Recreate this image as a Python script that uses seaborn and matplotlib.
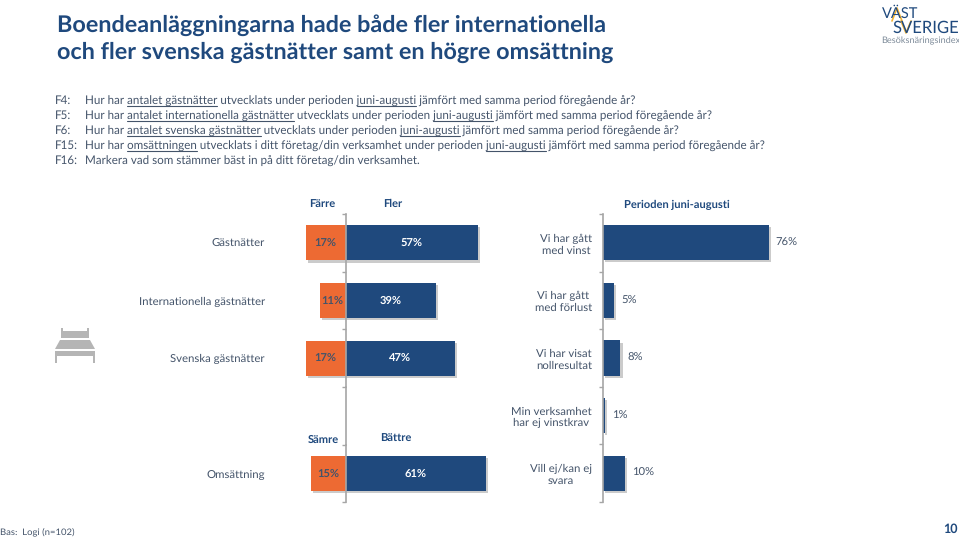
import matplotlib
matplotlib.use("Agg")
import matplotlib.pyplot as plt
from matplotlib.lines import Line2D
from matplotlib.patches import Polygon, Rectangle
import matplotlib.patheffects as pe
import seaborn as sns

# data
kategorier = ["Gästnätter", "Internationella gästnätter", "Svenska gästnätter"]
farre = [17, 11, 17]
fler = [57, 39, 47]

oms_kategori = ["Omsättning"]
samre = [15]
battre = [61]

resultat_kat = ["Vi har gått\nmed vinst", "Vi har gått\nmed förlust", "Vi har visat\nnollresultat",
                "Min verksamhet\nhar ej vinstkrav", "Vill ej/kan ej\nsvara"]
resultat = [76, 5, 8, 1, 10]

rubrik = ["Boendeanläggningarna hade både fler internationella",
          "och fler svenska gästnätter samt en högre omsättning"]
fragor = [
    ("F4:", "Hur har [antalet gästnätter] utvecklats under perioden [juni-augusti] jämfört med samma period föregående år?"),
    ("F5:", "Hur har [antalet internationella gästnätter] utvecklats under perioden [juni-augusti] jämfört med samma period föregående år?"),
    ("F6:", "Hur har [antalet svenska gästnätter] utvecklats under perioden [juni-augusti] jämfört med samma period föregående år?"),
    ("F15:", "Hur har [omsättningen] utvecklats i ditt företag/din verksamhet under perioden [juni-augusti] jämfört med samma period föregående år?"),
    ("F16:", "Markera vad som stämmer bäst in på ditt företag/din verksamhet."),
]

sns.set_theme(style="white")
plt.rcParams["font.family"] = ["Lato", "DejaVu Sans"]
plt.rcParams["text.hinting"] = "no_hinting"

BLA = "#1F497D"
ORANGE = "#ED6A33"
TEXT = "#44546A"
GRA = "#A6A6A6"
W, H = 959, 542

fig = plt.figure(figsize=(W / 100, H / 100), dpi=100, facecolor="white")


def fx(px):
    return px / W


def fy(py):
    return 1 - py / H


def yxa(x0, x1, y0, y1):
    return fig.add_axes([fx(x0), fy(y1), fx(x1 - x0), (y1 - y0) / H])


def skugga(ax):
    for p in ax.patches:
        p.set_path_effects([pe.SimplePatchShadow(offset=(1.5, -1.5), shadow_rgbFace="#999999", alpha=0.5), pe.Normal()])


def snygga(ax, n, pad):
    sns.despine(ax=ax, top=True, right=True, bottom=True)
    ax.spines["left"].set_position(("data", 0))
    ax.spines["left"].set_color(GRA)
    ax.spines["left"].set_linewidth(1.2)
    ax.set_xlabel("")
    ax.set_ylabel("")
    ax.set_xticks([])
    ax.set_ylim(n - 0.5, -0.5)
    ax.set_yticks([i - 0.5 for i in range(n + 1)], minor=True)
    ax.tick_params(axis="y", which="minor", left=True, length=3, color=GRA, width=1)
    ax.tick_params(axis="y", which="major", left=False, pad=pad, labelsize=8.2, labelcolor=TEXT)
    ax.patch.set_alpha(0)


def tva_sidor(ax, kat, neg, pos, skala, axel_x, x0, x1, n):
    sns.barplot(x=[-v for v in neg], y=kat, color=ORANGE, saturation=1, width=0.61, orient="h", linewidth=0, ax=ax)
    sns.barplot(x=pos, y=kat, color=BLA, saturation=1, width=0.61, orient="h", linewidth=0, ax=ax)
    ax.set_xlim((x0 - axel_x) / skala, (x1 - axel_x) / skala)
    snygga(ax, n, 52)
    skugga(ax)
    for i, (a, b) in enumerate(zip(neg, pos)):
        ax.text(-a / 2, i, f"{a}%", ha="center", va="center", color=TEXT, fontsize=8, fontweight="bold")
        ax.text(b / 2, i, f"{b}%", ha="center", va="center", color="white", fontsize=8, fontweight="bold")


# vänster diagram
ax1 = yxa(300, 500, 214, 387)
tva_sidor(ax1, kategorier, farre, fler, 2.33, 345.5, 300, 500, 3)
ax2 = yxa(300, 500, 445, 502)
tva_sidor(ax2, oms_kategori, samre, battre, 2.3, 345.5, 300, 500, 1)
fig.add_artist(Line2D([fx(345.5), fx(345.5)], [fy(387), fy(445)], color=GRA, lw=1.2))

# höger diagram
ax3 = yxa(603, 800, 214, 502)
sns.barplot(x=resultat, y=resultat_kat, color=BLA, saturation=1, width=0.61, orient="h", linewidth=0, ax=ax3)
ax3.set_xlim(0, 197 / 2.18)
snygga(ax3, 5, 2)
skugga(ax3)
for lab in ax3.get_yticklabels():
    lab.set_multialignment("center")
for i, v in enumerate(resultat):
    ax3.text(v + 3.2, i, f"{v}%", ha="left", va="center", color=TEXT, fontsize=8.1)

# kolumnrubriker
for txt, x, y in [("Färre", 322, 205), ("Fler", 393, 204), ("Sämre", 323, 440), ("Bättre", 396, 439),
                  ("Perioden juni-augusti", 677, 205)]:
    fig.text(fx(x), fy(y), txt, ha="center", va="center", color=BLA, fontsize=8, fontweight="bold")

# rubrik
for rad, y in zip(rubrik, [25, 52]):
    fig.text(fx(57), fy(y), rad, ha="left", va="center", color=BLA, fontsize=16.8, fontweight="bold")

# frågor med understrykning
rend = fig.canvas.get_renderer()


def bredd(s, fs):
    t = fig.text(0, 0, s + "|", fontsize=fs)
    b = t.get_window_extent(rend).width
    t.set_text("|")
    b -= t.get_window_extent(rend).width
    t.remove()
    return b


FS = 8.35
for (nr, fraga), y in zip(fragor, [100, 115, 130, 145, 160]):
    fig.text(fx(55), fy(y + 4), nr, ha="left", va="baseline", color=TEXT, fontsize=FS)
    ren = fraga.replace("[", "").replace("]", "")
    fig.text(fx(85), fy(y + 4), ren, ha="left", va="baseline", color=TEXT, fontsize=FS)
    delar = fraga.replace("]", "[").split("[")
    pos = ""
    for i, d in enumerate(delar):
        if i % 2 == 1:
            a = 85 + bredd(pos, FS)
            b = 85 + bredd(pos + d, FS)
            fig.add_artist(Line2D([fx(a), fx(b)], [fy(y + 6), fy(y + 6)], color=TEXT, lw=0.8))
        pos += d

# sidfot
fig.text(fx(0), fy(533), "Bas:  Logi (n=102)", ha="left", va="center", color=TEXT, fontsize=6.8)
fig.text(fx(958), fy(529), "10", ha="right", va="center", color=BLA, fontsize=9, fontweight="bold")

# logotyp
fig.text(fx(882), fy(14), "VÄST", ha="left", va="center", color=BLA, fontsize=10.5)
fig.text(fx(959), fy(28), "SVERIGE", ha="right", va="center", color=BLA, fontsize=12)
fig.text(fx(881), fy(41), "Besöksnäringsindex", ha="left", va="center", color="#7F8C9A", fontsize=6.6)
fig.add_artist(Line2D([fx(892), fx(897), fx(902)], [fy(21), fy(8), fy(21)], color="#F2B233", lw=1.2))
fig.add_artist(Line2D([fx(901), fx(906), fx(911)], [fy(21), fy(33), fy(21)], color="#F2B233", lw=1.2))

# sängikon
SANG = "#B5B5B5"
for xy, w, h in [((61, 328), 2, 10), ((87, 328), 2, 10), ((61, 331), 28, 7), ((55, 351), 40, 5), ((55, 356), 2, 7), ((93, 356), 2, 7)]:
    fig.add_artist(Rectangle((fx(xy[0]), fy(xy[1] + h)), w / W, h / H, transform=fig.transFigure, color=SANG, lw=0))
fig.add_artist(Polygon([(fx(60), fy(340)), (fx(90), fy(340)), (fx(95), fy(349)), (fx(55), fy(349))],
                       transform=fig.transFigure, color=SANG, lw=0))

fig.savefig("out.png", dpi=100)
